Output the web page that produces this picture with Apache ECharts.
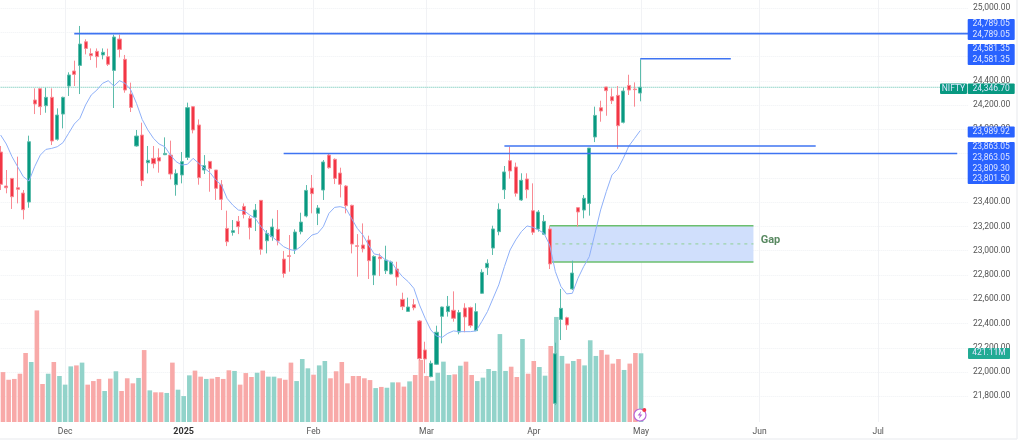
<!DOCTYPE html>
<html lang="en">
<head>
  <meta charset="UTF-8">
  <title>NIFTY daily</title>
  <style>
    html, body { margin: 0; padding: 0; background: #fff; }
    #chart { width: 1024px; height: 445px; }
  </style>
  <script src="https://cdn.jsdelivr.net/npm/echarts@6/dist/echarts.min.js"></script>
</head>
<body>
  <div id="chart"></div>
  <script>
    // trading days by month
    const tradingMonths = [
      ['2024-11', [13,14,18,19,21,22,25,26,27,28,29]],
      ['2024-12', [2,3,4,5,6,9,10,11,12,13,16,17,18,19,20,23,24,26,27,30,31]],
      ['2025-01', [1,2,3,6,7,8,9,10,13,14,15,16,17,20,21,22,23,24,27,28,29,30,31]],
      ['2025-02', [1,3,4,5,6,7,10,11,12,13,14,17,18,19,20,21,24,25,27,28]],
      ['2025-03', [3,4,5,6,7,10,11,12,13,17,18,19,20,21,24,25,26,27,28]],
      ['2025-04', [1,2,3,4,7,8,9,11,15,16,17,21,22,23,24,25,28,29,30]],
      ['2025-05', [2]]
    ];

    const opens = [
      23813,23533,23596,23519,23475,23401,24242,24335,24195,24264,
      23918,24126,24357,24481,24527,24722,24624,24643,24613,24599,
      24486,24744,24577,24291,23863,23953,23725,23761,23767,23791,
      23788,23544,23624,23769,24187,24036,23665,23736,23665,23544,
      23184,23151,23242,23365,23266,23275,23415,23082,23115,23176,
      22931,22959,23011,23157,23286,23516,23308,23500,23788,23753,
      23640,23533,23374,23041,23047,23088,22799,22948,22835,22808,
      22849,22599,22500,22555,22421,22182,21962,22064,22459,22498,
      22509,22330,22528,22531,22341,22649,22860,23022,23157,23503,
      23742,23690,23418,23591,23330,23179,23135,23179,21742,22434,
      22448,22685,23355,23335,23390,23937,24178,24349,24269,24280,
      24058,24362,24332,24299
    ];
    const closes = [
      23547,23519,23445,23506,23338,23898,24209,24187,24264,23904,
      24118,24264,24448,24453,24703,24667,24607,24599,24635,24536,
      24761,24659,24324,24181,23945,23577,23745,23717,23739,23802,
      23632,23637,23734,24179,23995,23602,23701,23676,23514,23423,
      23074,23165,23198,23299,23192,23335,23011,23143,23195,23080,
      22813,22953,23154,23236,23497,23470,23352,23731,23684,23596,
      23547,23371,23055,23036,23016,22918,22953,22934,22923,22907,
      22783,22539,22536,22530,22110,22108,22072,22328,22536,22542,
      22443,22490,22454,22383,22498,22822,22896,23179,23341,23649,
      23657,23473,23580,23503,23152,23319,23242,22891,22151,22525,
      22388,22816,23319,23432,23846,24115,24151,24319,24236,24030,
      24316,24324,24327,24346.7
    ];
    const lows = [
      23500,23473,23344,23390,23258,23354,24126,24118,24137,23871,
      23907,24008,24275,24357,24291,24618,24571,24508,24577,24522,
      24176,24593,24302,24143,23857,23533,23637,23679,23643,23788,
      23588,23453,23555,23747,23967,23544,23632,23486,23418,23335,
      23038,23124,23137,23266,23093,23162,22967,22978,23082,23044,
      22778,22827,22973,23135,23275,23308,23211,23418,23676,23549,
      23439,23308,22978,22786,22986,22767,22717,22791,22808,22805,
      22712,22511,22498,22509,22094,21990,21957,22058,22237,22457,
      22415,22311,22328,22366,22338,22643,22800,22965,23127,23426,
      23594,23446,23410,23432,23130,23157,23132,22849,21728,22264,
      22347,22676,23198,23267,23289,23895,24063,24112,24209,23840,
      24049,24283,24187,24231
    ];
    const highs = [
      23863,23665,23596,23775,23500,23948,24338,24335,24343,24338,
      24173,24269,24470,24566,24852,24742,24667,24667,24667,24665,
      24780,24780,24613,24385,23995,24055,23863,23863,23843,23934,
      23907,23670,23813,24220,24192,24082,23788,23736,23665,23582,
      23330,23253,23286,23390,23286,23385,23415,23170,23264,23335,
      22997,23129,23176,23313,23541,23624,23376,23747,23797,23761,
      23684,23541,23379,23137,23225,23124,22962,22978,23041,22918,
      22909,22654,22613,22602,22429,22250,22094,22382,22539,22627,
      22665,22512,22567,22539,22567,22847,22929,23206,23390,23698,
      23857,23726,23638,23638,23555,23335,23294,23206,22242,22685,
      22456,22918,23355,23459,23846,24187,24236,24351,24338,24357,
      24343,24450,24387,24577
    ];
    const volumes = [
      306,259,264,296,423,368,684,233,296,368,
      282,229,341,347,364,229,251,264,190,266,
      311,190,268,237,270,441,194,182,182,178,
      364,198,159,286,315,278,264,266,276,264,
      317,313,229,300,276,302,315,278,278,268,
      259,364,251,386,329,290,347,374,268,311,
      368,237,282,282,268,257,208,215,210,243,
      243,217,249,288,380,282,253,302,370,288,
      292,345,370,288,251,272,325,313,539,313,
      339,276,509,296,374,337,284,466,644,405,
      358,374,386,347,501,405,441,413,358,386,
      319,358,423,421.11
    ];
    const maLine = [
      23953,23879,23775,23692,23610,23574,23692,23788,23835,23843,
      23857,23890,23967,24044,24091,24201,24283,24324,24379,24401,
      24357,24401,24379,24324,24214,24082,23995,23926,23879,23857,
      23788,23734,23706,23712,23761,23720,23679,23643,23583,23541,
      23431,23376,23335,23330,23294,23266,23198,23143,23115,23074,
      23033,23011,23000,23033,23082,23129,23143,23198,23308,23357,
      23363,23349,23266,23184,23129,23047,22973,22964,22923,22909,
      22841,22786,22745,22690,22553,22443,22347,22297,22286,22319,
      22339,22333,22333,22333,22339,22416,22498,22608,22718,22869,
      23006,23089,23157,23204,23193,23171,23143,23047,22828,22704,
      22644,22649,22773,22869,22951,23143,23336,23487,23624,23671,
      23761,23863,23926,23989.92
    ];

    // drawn levels: [first bar, last bar, price]
    const levels = [
      [13, 171, 24789.05],
      [113, 129, 24581.35],
      [89, 144, 23863.05],
      [50, 169, 23801.5]
    ];
    const gapFrom = 97, gapTo = 133;
    const gapTop = 23206, gapBottom = 22907, gapMid = 23056;
    const lastPrice = 24346.7;

    const blueTags = [
      ['24,789.05', '24,789.05'],
      ['24,581.35', '24,581.35'],
      ['23,989.92'],
      ['23,863.05', '23,863.05', '23,809.30', '23,801.50']
    ];

    const CANDLE_UP = '#089981', CANDLE_DOWN = '#f23645';
    const VOL_UP = '#92d3ca', VOL_DOWN = '#f8a9a8';
    const LEVEL_BLUE = '#3f74f2';

    // categories: real sessions, then plain weekdays for the empty space on the right
    const dates = tradingMonths.flatMap(([m, days]) => days.map(d => m + '-' + String(d).padStart(2, '0')));
    const cursor = new Date(Date.UTC(2025, 4, 5));
    while (dates.length < 172) {
      if (cursor.getUTCDay() !== 0 && cursor.getUTCDay() !== 6) dates.push(cursor.toISOString().slice(0, 10));
      cursor.setUTCDate(cursor.getUTCDate() + 1);
    }
    const monthNames = ['Jan','Feb','Mar','Apr','May','Jun','Jul','Aug','Sep','Oct','Nov','Dec'];
    const axisLabels = dates.map((d, i) => {
      if (i === 0 || dates[i - 1].slice(0, 7) === d.slice(0, 7)) return '';
      const month = +d.slice(5, 7);
      return month === 1 ? '{year|' + d.slice(0, 4) + '}' : monthNames[month - 1];
    });

    const candles = opens.map((o, i) => [o, closes[i], lows[i], highs[i]]);
    const volumeBars = volumes.map((v, i) => ({
      value: v,
      itemStyle: { color: closes[i] >= opens[i] ? VOL_UP : VOL_DOWN }
    }));

    const levelSeries = levels.map(([from, to, price]) => ({
      type: 'line', xAxisIndex: 0, yAxisIndex: 0, z: 6, symbol: 'none', silent: true,
      data: [[from, price], [to, price]],
      lineStyle: { color: LEVEL_BLUE, width: 1.6 }
    }));

    function hLine(from, to, price, style, extra) {
      return Object.assign({
        type: 'line', xAxisIndex: 0, yAxisIndex: 0, z: 2, symbol: 'none', silent: true,
        data: [[from, price], [to, price]], lineStyle: style
      }, extra || {});
    }

    // tags on the price scale
    const graphics = [
      { type: 'line', shape: { x1: 1017, y1: 0, x2: 1017, y2: 439 }, style: { stroke: '#eff0f3', lineWidth: 1.5 } },
      { type: 'line', shape: { x1: 0, y1: 439, x2: 1017, y2: 439 }, style: { stroke: '#eff0f3', lineWidth: 1.5 } }
    ];
    function tag(x, y, w, h, fill, rows, rowH) {
      graphics.push({ type: 'rect', z: 20, shape: { x, y, width: w, height: h, r: 1 }, style: { fill } });
      rows.forEach((t, k) => graphics.push({
        type: 'text', z: 21, x: x + w / 2, y: y + 5.2 + k * rowH,
        style: { text: t, fill: '#dfe6ff', font: '8.5px Roboto', align: 'center', verticalAlign: 'middle' }
      }));
    }
    tag(967.7, 19, 47, 21, '#2962ff', blueTags[0], 10.8);
    tag(967.7, 44, 47, 21, '#2962ff', blueTags[1], 11);
    tag(967.7, 126.5, 47, 11, '#2962ff', blueTags[2], 0);
    tag(967.7, 142, 47, 42, '#2962ff', blueTags[3], 10.7);
    tag(967.7, 83.5, 47, 10.5, '#089981', ['24,346.70'], 0);
    tag(940, 83.5, 27, 10.5, '#089981', ['NIFTY'], 0);
    tag(968, 348, 42, 11, '#22ab94', ['421.11M'], 0);
    // lightning badge on the time scale
    graphics.push(
      { type: 'circle', z: 22, shape: { cx: 640, cy: 415, r: 6 }, style: { fill: '#fff', stroke: '#b968d8', lineWidth: 1.2 } },
      { type: 'polygon', z: 23, shape: { points: [[641.2,411],[637.6,415.6],[639.8,415.6],[638.8,419],[642.4,414.4],[640.2,414.4]] }, style: { fill: '#b968d8' } },
      { type: 'circle', z: 24, shape: { cx: 644.3, cy: 410, r: 2 }, style: { fill: '#f23645' } }
    );

    const chart = echarts.init(document.getElementById('chart'), null, { renderer: 'canvas' });
    chart.setOption({
      animation: false,
      backgroundColor: '#fff',
      grid: [
        { left: 0.67, width: 967.86, top: 8, height: 412.6 },
        { left: 0.67, width: 967.86, top: 0, height: 422 }
      ],
      xAxis: [
        { type: 'category', boundaryGap: false, gridIndex: 0, data: dates, axisLine: { show: false }, axisTick: { show: false }, axisLabel: { show: false }, splitLine: { show: false } },
        {
          type: 'category', boundaryGap: false, gridIndex: 1, data: dates,
          axisLine: { show: false }, axisTick: { show: false },
          axisLabel: {
            interval: 0, margin: 5, fontFamily: 'Roboto', fontSize: 8.5, color: '#555',
            formatter: (v, i) => axisLabels[i],
            rich: { year: { fontFamily: 'Roboto', fontSize: 9, fontWeight: 'bold', color: '#333' } }
          },
          splitLine: {
            show: true, lineStyle: { color: '#f1f2f5', width: 1 },
            interval: (i) => axisLabels[i] !== ''
          }
        }
      ],
      yAxis: [
        {
          type: 'value', gridIndex: 0, position: 'right', min: 21600, max: 25000, interval: 200,
          axisLine: { show: false }, axisTick: { show: false },
          axisLabel: {
            margin: 4.5, fontFamily: 'Roboto', fontSize: 8.5, color: '#555', showMinLabel: false,
            formatter: v => v.toLocaleString('en-US', { minimumFractionDigits: 2, maximumFractionDigits: 2 })
          },
          splitLine: { show: true, showMinLine: false, lineStyle: { color: '#eff1f4', width: 1, type: 'dotted' } }
        },
        { type: 'value', gridIndex: 1, min: 0, max: 2587, axisLine: { show: false }, axisTick: { show: false }, axisLabel: { show: false }, splitLine: { show: false } }
      ],
      series: [
        { type: 'bar', name: 'Volume', xAxisIndex: 1, yAxisIndex: 1, z: 1, data: volumeBars, barWidth: 4.6, silent: true },
        hLine(gapFrom, gapTo, gapTop, { color: '#6bbf6f', width: 1.5 }, {
          markArea: {
            silent: true,
            itemStyle: { color: '#d0dffc' },
            data: [[{ coord: [gapFrom, gapTop] }, { coord: [gapTo, gapBottom] }]]
          }
        }),
        hLine(gapFrom, gapTo, gapBottom, { color: '#6bbf6f', width: 1.5 }),
        hLine(gapFrom + 1, gapTo, gapMid, { color: '#8fd094', width: 1, type: [3, 4] }),
        {
          type: 'candlestick', name: 'NIFTY', xAxisIndex: 0, yAxisIndex: 0, z: 4, data: candles, barWidth: 3.6,
          itemStyle: { color: CANDLE_UP, color0: CANDLE_DOWN, borderColor: '#5cbcab', borderColor0: '#f98a93', borderWidth: 1 }
        },
        { type: 'line', name: 'MA', xAxisIndex: 0, yAxisIndex: 0, z: 5, data: maLine, symbol: 'none', silent: true, lineStyle: { color: '#8fb0f8', width: 1 } },
        hLine(0, 166, lastPrice, { color: '#5cc0ae', width: 1, type: 'dotted' }),
        ...levelSeries,
        {
          type: 'scatter', xAxisIndex: 0, yAxisIndex: 0, z: 7, silent: true, symbolSize: 0,
          data: [[136, 23088]],
          label: { show: true, position: 'inside', formatter: 'Gap', fontFamily: 'Roboto', fontSize: 11, fontWeight: 'bold', color: '#2f6b3a' }
        }
      ],
      graphic: graphics
    });
  </script>
</body>
</html>
